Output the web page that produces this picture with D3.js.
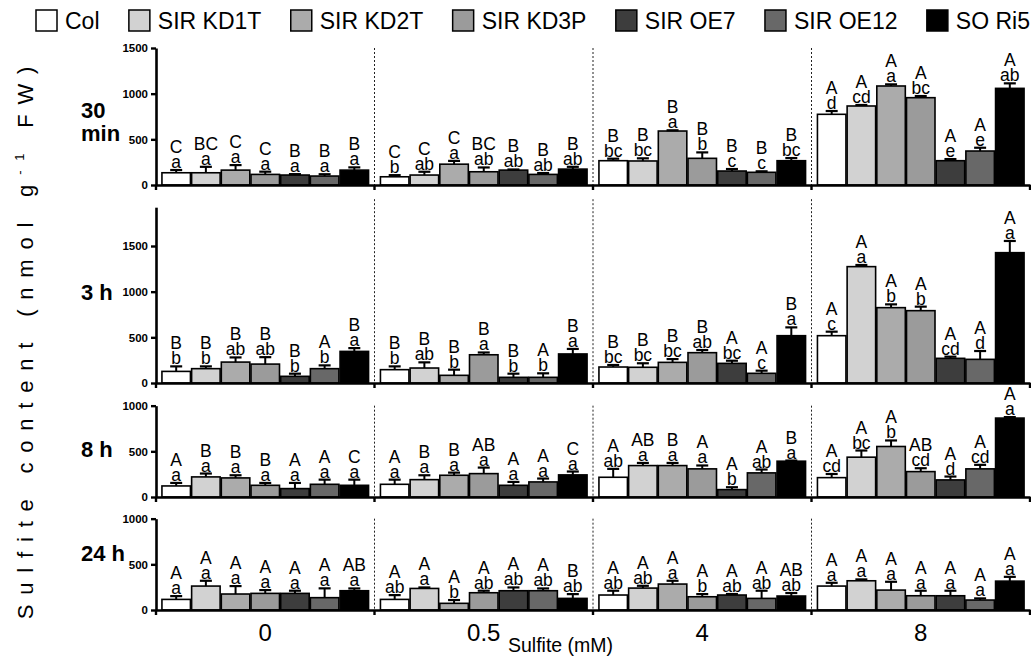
<!DOCTYPE html>
<html>
<head>
<meta charset="utf-8">
<script src="https://cdn.jsdelivr.net/npm/d3@7"></script>
<style>
  body { margin: 0; background: #fff; }
  svg { display: block; font-family: "Liberation Sans", Arial, sans-serif; }
</style>
</head>
<body>
<div id="chart"></div>
<script>
// lines and sulfite treatments
const series = ["Col", "SIR KD1T", "SIR KD2T", "SIR KD3P", "SIR OE7", "SIR OE12", "SO Ri5"];
const sulfite = ["0", "0.5", "4", "8"];

// 30 min  (rows = sulfite level, cols = line)
const mean30 = [[134, 134, 163, 116, 109, 98, 163], [90, 109, 228, 145, 163, 116, 174], [266, 263, 591, 292, 153, 139, 266], [774, 865, 1084, 956, 266, 372, 1058]];
const err30 = [[30, 65, 55, 30, 10, 20, 30], [18, 36, 36, 47, 7, 15, 25], [22, 29, 8, 65, 22, 11, 29], [36, 11, 18, 18, 18, 36, 55]];
const up30 = [["C", "BC", "C", "C", "B", "B", "B"], ["C", "C", "C", "BC", "B", "B", "B"], ["B", "B", "B", "B", "B", "B", "B"], ["A", "A", "A", "A", "A", "A", "A"]];
const low30 = [["a", "a", "a", "a", "a", "a", "a"], ["b", "ab", "a", "ab", "ab", "ab", "ab"], ["bc", "bc", "a", "b", "c", "c", "bc"], ["d", "cd", "a", "bc", "e", "e", "ab"]];

// 3 h
const mean3 = [[127, 157, 229, 207, 73, 157, 346], [146, 164, 84, 309, 62, 62, 318], [175, 172, 226, 332, 215, 106, 518], [518, 1274, 825, 792, 270, 259, 1427]];
const err3 = [[55, 25, 51, 76, 29, 36, 36], [36, 62, 62, 25, 40, 44, 55], [22, 44, 36, 29, 29, 29, 91], [44, 18, 36, 44, 18, 91, 128]];
const up3 = [["B", "B", "B", "B", "B", "A", "B"], ["B", "B", "B", "B", "B", "A", "B"], ["B", "B", "B", "B", "A", "A", "B"], ["A", "A", "A", "A", "A", "A", "A"]];
const low3 = [["b", "b", "ab", "ab", "b", "b", "a"], ["b", "ab", "b", "a", "b", "b", "a"], ["bc", "bc", "bc", "ab", "bc", "c", "a"], ["c", "a", "b", "b", "cd", "d", "a"]];

// 8 h
const mean8 = [[121, 220, 209, 128, 92, 139, 128], [139, 190, 238, 256, 128, 165, 242], [216, 344, 344, 308, 81, 264, 392], [212, 436, 553, 278, 187, 308, 864]];
const err8 = [[33, 37, 29, 26, 62, 51, 62], [51, 48, 29, 66, 37, 37, 37], [92, 29, 29, 37, 26, 37, 7], [40, 73, 66, 37, 37, 44, 11]];
const up8 = [["A", "B", "B", "B", "A", "A", "C"], ["A", "B", "B", "AB", "A", "A", "C"], ["A", "AB", "B", "A", "A", "A", "B"], ["A", "A", "A", "AB", "A", "A", "A"]];
const low8 = [["a", "a", "a", "a", "a", "a", "a"], ["a", "a", "a", "a", "a", "a", "a"], ["ab", "a", "a", "a", "b", "ab", "a"], ["cd", "bc", "b", "cd", "d", "cd", "a"]];

// 24 h
const mean24 = [[116, 262, 175, 182, 182, 135, 211], [116, 236, 73, 189, 211, 211, 127], [164, 240, 284, 145, 164, 127, 153], [262, 320, 218, 156, 156, 109, 316]];
const err24 = [[36, 58, 87, 36, 29, 102, 25], [47, 11, 36, 22, 36, 25, 47], [47, 25, 36, 29, 11, 84, 33], [36, 15, 91, 55, 55, 18, 47]];
const up24 = [["A", "A", "A", "A", "A", "A", "AB"], ["A", "A", "A", "A", "A", "A", "B"], ["A", "A", "A", "A", "A", "A", "AB"], ["A", "A", "A", "A", "A", "A", "A"]];
const low24 = [["a", "a", "a", "a", "a", "a", "a"], ["ab", "a", "b", "ab", "ab", "ab", "ab"], ["ab", "ab", "a", "b", "ab", "ab", "ab"], ["a", "a", "a", "a", "a", "a", "a"]];

const fills = ["#ffffff", "#d2d2d2", "#ababab", "#9b9b9b", "#3d3d3d", "#686868", "#000000"];

var width = 1031, height = 657;
var x0 = 156, x1 = 1030;
var pxPerUnit = 137 / 1500;

var svg = d3.select("#chart").append("svg")
    .attr("width", width)
    .attr("height", height);

var color = d3.scaleOrdinal().domain(series).range(fills);

var groupX = d3.scaleBand()
    .domain(sulfite)
    .range([x0, x1]);

var barX = d3.scaleBand()
    .domain(series)
    .range([0, groupX.bandwidth()])
    .paddingInner(0.04)
    .paddingOuter(0.2);

var panels = [
    {label: ["30", "min"], mean: mean30, err: err30, up: up30, low: low30, max: 1500, ticks: [0, 500, 1000, 1500], zero: 185, labelY: [118, 141]},
    {label: ["3 h"], mean: mean3, err: err3, up: up3, low: low3, max: 1925, ticks: [0, 500, 1000, 1500], zero: 383, labelY: [300]},
    {label: ["8 h"], mean: mean8, err: err8, up: up8, low: low8, max: 1000, ticks: [0, 500, 1000], zero: 497, labelY: [457]},
    {label: ["24 h"], mean: mean24, err: err24, up: up24, low: low24, max: 1000, ticks: [0, 500, 1000], zero: 610, labelY: [561]}
];

panels.forEach(function(p, pi) {
    var y = d3.scaleLinear()
        .domain([0, p.max])
        .range([p.zero, p.zero - p.max * pxPerUnit]);

    var g = svg.append("g");

    // dotted separators between sulfite levels
    g.selectAll(".sep")
        .data(sulfite.slice(1))
        .enter()
        .append("line")
            .attr("x1", d => groupX(d))
            .attr("x2", d => groupX(d))
            .attr("y1", y(p.max) - (pi == 1 ? 8 : 0))
            .attr("y2", p.zero)
            .attr("stroke", "#222")
            .attr("stroke-width", 1)
            .attr("stroke-dasharray", "2,2");

    // bars
    var rows = [];
    p.mean.forEach((row, gi) => {
        row.forEach((v, si) => {
            rows.push({grp: sulfite[gi], s: series[si], v: v, e: p.err[gi][si], up: p.up[gi][si], low: p.low[gi][si]});
        });
    });

    g.selectAll("rect")
        .data(rows)
        .enter()
        .append("rect")
            .attr("x", d => groupX(d.grp) + barX(d.s))
            .attr("y", d => y(d.v))
            .attr("width", barX.bandwidth())
            .attr("height", d => p.zero - y(d.v))
            .attr("fill", d => color(d.s))
            .attr("stroke", "#000")
            .attr("stroke-width", 1.6);

    // error bars
    var cx = d => groupX(d.grp) + barX(d.s) + barX.bandwidth() / 2;
    g.selectAll(".err")
        .data(rows)
        .enter()
        .append("line")
            .attr("x1", cx).attr("x2", cx)
            .attr("y1", d => y(d.v))
            .attr("y2", d => y(d.v + d.e))
            .attr("stroke", "#000")
            .attr("stroke-width", 2);
    g.selectAll(".cap")
        .data(rows)
        .enter()
        .append("line")
            .attr("x1", d => cx(d) - 6).attr("x2", d => cx(d) + 6)
            .attr("y1", d => y(d.v + d.e))
            .attr("y2", d => y(d.v + d.e))
            .attr("stroke", "#000")
            .attr("stroke-width", 2.2);

    // significance letters
    g.selectAll(".low")
        .data(rows)
        .enter()
        .append("text")
            .attr("x", cx)
            .attr("y", d => y(d.v + d.e) - 2)
            .attr("text-anchor", "middle")
            .attr("font-size", "17.5px")
            .text(d => d.low);
    g.selectAll(".up")
        .data(rows)
        .enter()
        .append("text")
            .attr("x", cx)
            .attr("y", d => y(d.v + d.e) - 17)
            .attr("text-anchor", "middle")
            .attr("font-size", "17.5px")
            .text(d => d.up);

    // y axis
    var ya = g.append("g")
        .attr("transform", "translate(" + x0 + ",0)")
        .call(d3.axisLeft(y).tickValues(p.ticks).tickFormat(d3.format("d"))
            .tickSize(5).tickSizeOuter(0).tickPadding(3));
    ya.select(".domain").attr("stroke-width", 2.6);
    ya.selectAll(".tick line").attr("stroke-width", 2.4);
    ya.selectAll(".tick text")
        .attr("font-size", "11.5px")
        .attr("font-weight", "bold")
        .attr("font-family", "Liberation Sans, Arial, sans-serif")
        .attr("fill", "#000");

    // x axis
    var xa = g.append("g")
        .attr("transform", "translate(0," + p.zero + ")")
        .call(d3.axisBottom(groupX).tickSize(0).tickSizeOuter(0).tickPadding(14)
            .tickFormat(pi == panels.length - 1 ? (d => d) : (d => "")));
    xa.select(".domain").attr("stroke-width", 2.6);
    xa.selectAll(".tick text")
        .attr("font-size", "24px")
        .attr("font-family", "Liberation Sans, Arial, sans-serif")
        .attr("fill", "#000");

    g.selectAll(".xtick")
        .data([x0].concat(sulfite.slice(1).map(d => groupX(d)), [x1]))
        .enter()
        .append("line")
            .attr("x1", d => d).attr("x2", d => d)
            .attr("y1", p.zero).attr("y2", p.zero + 5)
            .attr("stroke", "#000")
            .attr("stroke-width", 2.4);

    // panel time label
    var lab = g.append("text")
        .attr("font-size", "22px")
        .attr("font-weight", "bold");
    p.label.forEach((t, i) => {
        lab.append("tspan").attr("x", 81).attr("y", p.labelY[i]).text(t);
    });
});

// axis titles
var yt = svg.append("text")
    .attr("transform", "translate(33,338) rotate(-90)")
    .attr("text-anchor", "middle")
    .attr("font-size", "22px")
    .attr("letter-spacing", "9.8px");
yt.append("tspan").text("Sulfite content (nmol g");
yt.append("tspan").attr("font-size", "13px").attr("dy", -9).text("-1");
yt.append("tspan").attr("dy", 9).text(" FW)");

svg.append("text")
    .attr("x", 508)
    .attr("y", 652)
    .attr("font-size", "19.5px")
    .text("Sulfite (mM)");

// legend, spread across the top
var legend = svg.append("g");
var items = legend.selectAll("g")
    .data(series)
    .enter()
    .append("g");
items.append("rect")
    .attr("width", 21).attr("height", 21)
    .attr("y", 10)
    .attr("fill", d => color(d))
    .attr("stroke", "#000")
    .attr("stroke-width", 1.5);
items.append("text")
    .attr("x", 29)
    .attr("y", 29)
    .attr("font-size", "23px")
    .text(d => d);

var widths = [];
items.each(function() { widths.push(29 + d3.select(this).select("text").node().getComputedTextLength()); });
var total = d3.sum(widths);
var gap = (1030 - 36 - total) / (series.length - 1);
var pos = 36;
items.attr("transform", function(d, i) {
    var t = "translate(" + pos + ",0)";
    pos += widths[i] + gap;
    return t;
});
</script>
</body>
</html>
